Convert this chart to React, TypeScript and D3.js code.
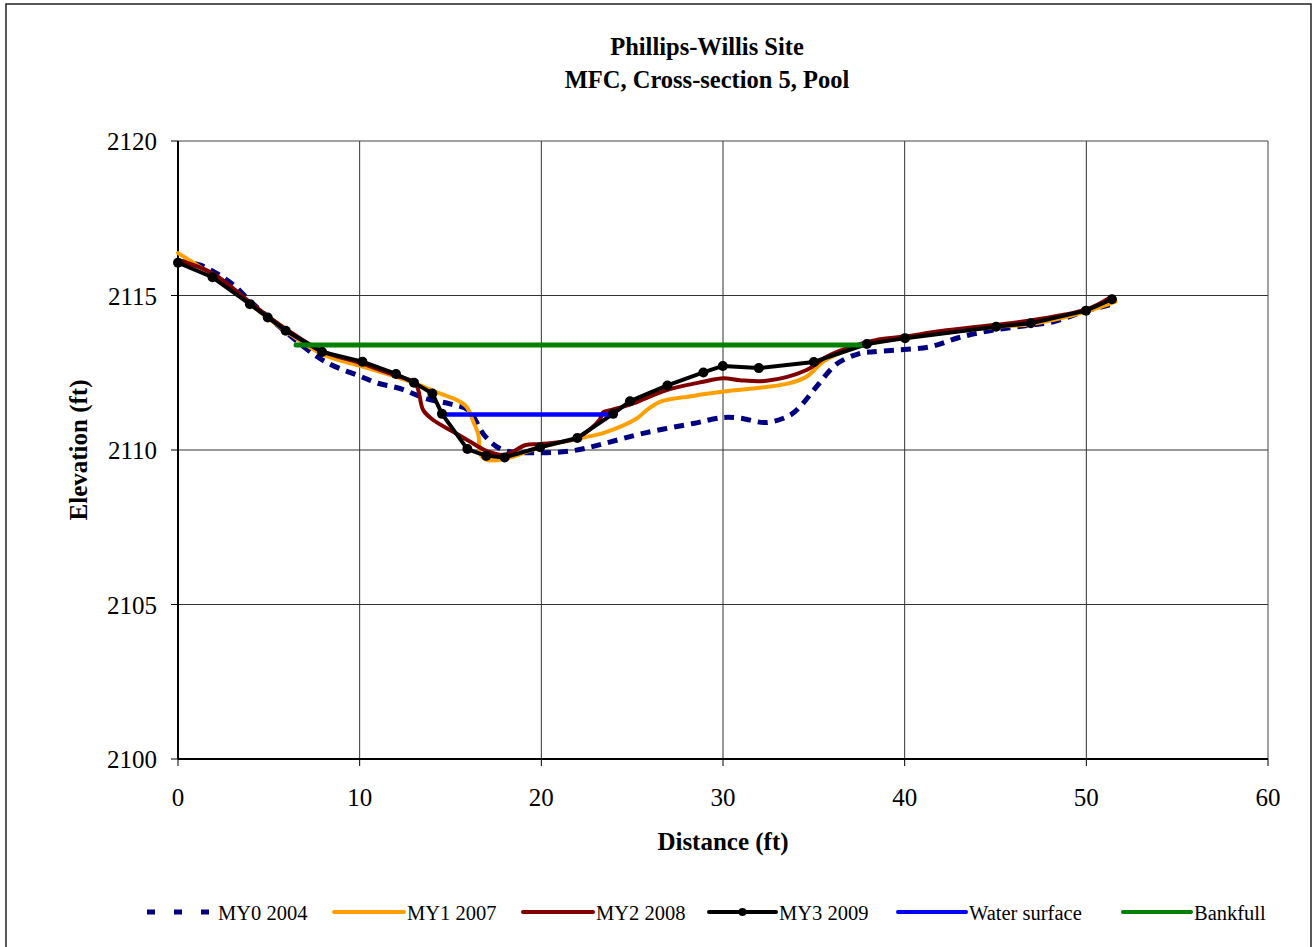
import React from "react";
import * as d3 from "d3";

// Survey profiles: distance (ft) and elevation (ft)
const my0X = [0, 1.2, 2.95, 4.0, 5.8, 7.54, 8.46, 10.1, 11.0, 12.22, 13.6, 14.97, 15.98, 16.9, 17.9, 19.93, 21.76, 23.4, 25.6, 28.36, 30.02, 30.93, 32.4, 33.7, 34.24, 35.15, 36.25, 37.54, 38.27, 39.65, 41.4, 43.05, 44.88, 46.9, 48.18, 50.02, 50.93, 51.3];
const my0Y = [2116.1, 2115.99, 2115.39, 2114.8, 2113.88, 2113.07, 2112.75, 2112.37, 2112.16, 2111.99, 2111.67, 2111.49, 2111.29, 2110.45, 2110.0, 2109.91, 2109.98, 2110.2, 2110.54, 2110.86, 2111.05, 2111.03, 2110.89, 2111.13, 2111.4, 2112.05, 2112.78, 2113.13, 2113.18, 2113.24, 2113.34, 2113.65, 2113.88, 2114.04, 2114.15, 2114.51, 2114.64, 2114.7];

const my1X = [0, 1.9, 3.96, 5.93, 7.93, 10.15, 12.0, 13.3, 14.4, 15.34, 15.88, 16.25, 16.53, 16.65, 16.99, 17.9, 19.93, 21.98, 23.6, 25.25, 25.8, 26.53, 28.36, 30.02, 33.5, 34.6, 35.52, 36.62, 37.92, 40.0, 45.0, 47.0, 50.0, 51.6];
const my1Y = [2116.37, 2115.65, 2114.72, 2113.85, 2113.1, 2112.7, 2112.37, 2112.1, 2111.83, 2111.62, 2111.4, 2110.92, 2110.5, 2109.85, 2109.68, 2109.7, 2110.09, 2110.36, 2110.59, 2111.02, 2111.29, 2111.56, 2111.75, 2111.89, 2112.14, 2112.37, 2112.86, 2113.18, 2113.43, 2113.62, 2113.98, 2114.08, 2114.48, 2114.8];

const my2X = [0, 1.9, 3.96, 4.94, 5.93, 7.93, 10.15, 12.0, 13.05, 13.5, 14.05, 15.15, 16.25, 17.0, 17.98, 19.15, 19.93, 21.94, 23.2, 23.4, 23.96, 25.06, 26.9, 28.92, 30.02, 30.93, 32.4, 34.6, 35.7, 36.8, 38.46, 40.0, 42.0, 45.0, 47.0, 50.0, 51.2];
const my2Y = [2116.15, 2115.72, 2114.78, 2114.33, 2113.92, 2113.2, 2112.8, 2112.4, 2112.17, 2111.29, 2110.97, 2110.59, 2110.21, 2109.96, 2109.84, 2110.16, 2110.19, 2110.38, 2110.97, 2111.22, 2111.31, 2111.51, 2111.94, 2112.21, 2112.32, 2112.26, 2112.24, 2112.59, 2113.02, 2113.29, 2113.56, 2113.67, 2113.85, 2114.05, 2114.2, 2114.55, 2114.9];

const my3X = [0, 1.9, 3.96, 4.94, 5.93, 7.93, 10.15, 12.0, 12.99, 14.0, 14.53, 15.93, 16.97, 17.98, 19.93, 21.98, 23.95, 24.88, 26.94, 28.92, 29.99, 31.97, 35.0, 37.92, 40.02, 45.03, 46.94, 49.98, 51.41];
const my3Y = [2116.06, 2115.59, 2114.72, 2114.29, 2113.86, 2113.17, 2112.86, 2112.46, 2112.18, 2111.83, 2111.17, 2110.03, 2109.81, 2109.76, 2110.09, 2110.39, 2111.17, 2111.58, 2112.09, 2112.51, 2112.72, 2112.65, 2112.85, 2113.43, 2113.62, 2113.99, 2114.1, 2114.51, 2114.88];

const waterX = [14.6, 23.8];
const waterY = [2111.15, 2111.15];
const bankfullX = [6.5, 37.7];
const bankfullY = [2113.4, 2113.4];

const xTicks = [0, 10, 20, 30, 40, 50, 60];
const yTicks = [2100, 2105, 2110, 2115, 2120];

const titleLines = ["Phillips-Willis Site", "MFC, Cross-section 5, Pool"];
const legendLabels = ["MY0 2004", "MY1 2007", "MY2 2008", "MY3 2009", "Water surface", "Bankfull"];

const W = 1312;
const H = 947;
const plot = { left: 178, right: 1268, top: 141, bottom: 759 };
const FONT = "'Liberation Serif', 'Times New Roman', serif";

const zip = (xs: number[], ys: number[]) => xs.map((x, i) => [x, ys[i]] as [number, number]);

export default function App() {
  const x = d3.scaleLinear().domain([0, 60]).range([plot.left, plot.right]);
  const y = d3.scaleLinear().domain([2100, 2120]).range([plot.bottom, plot.top]);

  const straight = d3.line<[number, number]>().x((d) => x(d[0])).y((d) => y(d[1]));
  const smooth = d3
    .line<[number, number]>()
    .x((d) => x(d[0]))
    .y((d) => y(d[1]))
    .curve(d3.curveCatmullRom.alpha(0.5));

  const series = [
    { label: legendLabels[0], d: smooth(zip(my0X, my0Y)), color: "#000080", width: 5, dash: "10,7" },
    { label: legendLabels[1], d: smooth(zip(my1X, my1Y)), color: "#FFA000", width: 4, dash: undefined },
    { label: legendLabels[2], d: smooth(zip(my2X, my2Y)), color: "#800000", width: 4, dash: undefined },
    { label: legendLabels[3], d: straight(zip(my3X, my3Y)), color: "#000000", width: 4, dash: undefined },
    { label: legendLabels[4], d: straight(zip(waterX, waterY)), color: "#0000FF", width: 4.5, dash: undefined },
    { label: legendLabels[5], d: straight(zip(bankfullX, bankfullY)), color: "#008000", width: 5, dash: undefined },
  ];

  const legendY = 912;
  const legendItems = [
    { x0: 147, x1: 215, tx: 218 },
    { x0: 334, x1: 404, tx: 407 },
    { x0: 523, x1: 593, tx: 596 },
    { x0: 709, x1: 776, tx: 779 },
    { x0: 898, x1: 966, tx: 969 },
    { x0: 1123, x1: 1191, tx: 1194 },
  ];

  return (
    <svg
      width={W}
      height={H}
      style={{ position: "absolute", left: 0, top: 0, background: "#fff" }}
      fontFamily={FONT}
    >
      <rect x={0} y={0} width={W} height={H} fill="#fff" />
      <rect x={6} y={4} width={1305} height={960} fill="none" stroke="#222" strokeWidth={1.5} />

      {titleLines.map((t, i) => (
        <text key={t} x={707} y={55 + i * 33} textAnchor="middle" fontSize={24.5} fontWeight="bold">
          {t}
        </text>
      ))}

      {/* grid */}
      {xTicks.slice(1, -1).map((t) => (
        <line key={"gx" + t} x1={x(t)} x2={x(t)} y1={plot.top} y2={plot.bottom} stroke="#333" strokeWidth={1} />
      ))}
      {yTicks.slice(1, -1).map((t) => (
        <line key={"gy" + t} x1={plot.left} x2={plot.right} y1={y(t)} y2={y(t)} stroke="#333" strokeWidth={1} />
      ))}

      {/* plot frame */}
      <line x1={plot.left} x2={plot.right} y1={plot.top} y2={plot.top} stroke="#444" strokeWidth={1} />
      <line x1={plot.right} x2={plot.right} y1={plot.top} y2={plot.bottom} stroke="#444" strokeWidth={1} />
      <line x1={plot.left} x2={plot.left} y1={plot.top} y2={plot.bottom} stroke="#000" strokeWidth={2} />
      <line x1={plot.left} x2={plot.right} y1={plot.bottom} y2={plot.bottom} stroke="#000" strokeWidth={2} />

      {/* ticks and labels */}
      {xTicks.map((t) => (
        <g key={"xt" + t}>
          <line x1={x(t)} x2={x(t)} y1={plot.bottom} y2={plot.bottom + 7} stroke="#000" strokeWidth={1} />
          <text x={x(t)} y={plot.bottom + 47} textAnchor="middle" fontSize={25}>
            {t}
          </text>
        </g>
      ))}
      {yTicks.map((t) => (
        <g key={"yt" + t}>
          <line x1={plot.left - 7} x2={plot.left} y1={y(t)} y2={y(t)} stroke="#000" strokeWidth={1} />
          <text x={157} y={y(t) + 9} textAnchor="end" fontSize={25}>
            {t}
          </text>
        </g>
      ))}

      <text x={(plot.left + plot.right) / 2} y={850} textAnchor="middle" fontSize={25} fontWeight="bold">
        Distance (ft)
      </text>
      <text
        transform={`translate(87, ${(plot.top + plot.bottom) / 2}) rotate(-90)`}
        textAnchor="middle"
        fontSize={25}
        fontWeight="bold"
      >
        Elevation (ft)
      </text>

      {/* series */}
      {series.map((s) => (
        <path
          key={s.label}
          d={s.d || ""}
          fill="none"
          stroke={s.color}
          strokeWidth={s.width}
          strokeDasharray={s.dash}
          strokeLinejoin="round"
          strokeLinecap={s.dash ? "butt" : "round"}
        />
      ))}
      {zip(my3X, my3Y).map((p, i) => (
        <circle key={"m" + i} cx={x(p[0])} cy={y(p[1])} r={5} fill="#000" />
      ))}

      {/* legend */}
      {series.map((s, i) => {
        const it = legendItems[i];
        return (
          <g key={"lg" + s.label}>
            <line
              x1={it.x0}
              x2={it.x1}
              y1={legendY}
              y2={legendY}
              stroke={s.color}
              strokeWidth={s.dash ? 5 : 4}
              strokeDasharray={s.dash ? "8,19" : undefined}
              strokeLinecap={s.dash ? "butt" : "round"}
            />
            {i === 3 && <circle cx={(it.x0 + it.x1) / 2} cy={legendY} r={4} fill="#000" />}
            <text x={it.tx} y={legendY + 8} fontSize={20.5}>
              {s.label}
            </text>
          </g>
        );
      })}
    </svg>
  );
}
